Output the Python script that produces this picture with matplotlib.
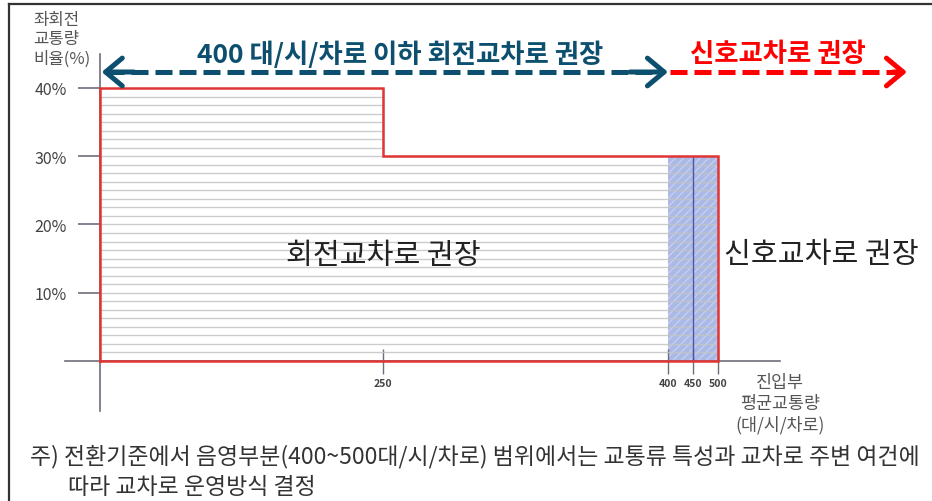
import numpy as np
import matplotlib.pyplot as plt
from matplotlib.lines import Line2D

plt.rcParams['font.family'] = ['Noto Sans CJK KR', 'DejaVu Sans']

# criteria: left-turn ratio limit (%) by approach volume (veh/h/lane)
step_x = [0, 0, 250, 250, 500, 500, 0]
step_y = [0, 40, 40, 30, 30, 0, 0]
shade_range = (400, 500)
shade_top = 30
mid_line = 450
x_ticks = [250, 400, 450, 500]
y_ticks = [10, 20, 30, 40]
y_ticklabels = ['10%', '20%', '30%', '40%']

BLUE = '#0d4f6e'
RED = '#ff0000'
AXIS = '#6e6e7a'

# piecewise axis: 0-250 and 250-400 stretched, 400-500 compressed
xp = [-1000, 0, 250, 400, 500, 2000]
fp = [-1000, 0, 283, 568, 618, 1368]


def fwd(x):
    return np.interp(x, xp, fp)


def inv(x):
    return np.interp(x, fp, xp)


fig = plt.figure(figsize=(9.32, 5.02), dpi=100)
ax = fig.add_axes([60 / 932, 82 / 502, 730 / 932, 370 / 502])
ax.set_xscale('function', functions=(fwd, inv))
ax.set_xlim(-40, 644)
ax.set_ylim(-8.5, 45.71)

# shaded transition band
ax.fill_between(shade_range, 0, shade_top, facecolor='#abb9e6', edgecolor='#c4cef0',
                hatch='////', lw=0, zorder=1)

# horizontal ruling inside the recommended region
for yy in np.arange(1.25, 40, 1.25):
    x_end = 500 if yy <= 30 else 250
    ax.plot([0, x_end], [yy, yy], color='#c4c4c4', lw=1.0, alpha=0.85, zorder=2)

ax.plot([mid_line, mid_line], [0, shade_top], color='#4a55b0', lw=1.0, zorder=3)

# red outline
ax.plot(step_x, step_y, color='#e03535', lw=1.8, zorder=4, solid_joinstyle='miter')

# axes
for s in ['top', 'right']:
    ax.spines[s].set_visible(False)
ax.spines['left'].set_position(('data', 0))
ax.spines['bottom'].set_position(('data', 0))
ax.spines['left'].set_bounds(-7.3, 45)
ax.spines['bottom'].set_bounds(-35, 624)
for s in ['left', 'bottom']:
    ax.spines[s].set_color(AXIS)
    ax.spines[s].set_linewidth(1.2)

ax.set_yticks(y_ticks)
ax.set_yticklabels(y_ticklabels)
ax.tick_params(axis='y', direction='out', length=16, width=1.2, color=AXIS,
               labelsize=11.5, labelcolor='#444444', pad=8)
ax.set_xticks(x_ticks)
ax.set_xticklabels([str(v) for v in x_ticks])
ax.tick_params(axis='x', direction='inout', length=18, width=1.0, color=AXIS,
               labelsize=7.5, labelcolor='#444444', pad=3)
for lbl in ax.get_xticklabels():
    lbl.set_fontweight('bold')

# region labels
ax.text(250, 15.5, '회전교차로 권장', fontsize=21, color='#222222',
        ha='center', va='center')
fig.text(821 / 932, 1 - 255 / 502, '신호교차로 권장', fontsize=21,
         color='#222222', ha='center', va='center')

# axis titles
fig.text(33 / 932, 1 - 40 / 502, '좌회전\n교통량\n비율(%)', fontsize=12,
         color='#555555', ha='left', va='center', linespacing=1.2)
fig.text(780 / 932, 1 - 404 / 502, '진입부\n평균교통량\n(대/시/차로)', fontsize=12.5,
         color='#555555', ha='center', va='center', linespacing=1.2)

# recommendation arrows
arrow_y = 42.34
ax.plot([6, 395], [arrow_y, arrow_y], color=BLUE, lw=3.6, dashes=(3.4, 1.4),
        zorder=5, clip_on=False)
ax.plot([405, 866], [arrow_y, arrow_y], color=RED, lw=3.6, dashes=(3.4, 1.4),
        zorder=5, clip_on=False)
head = dict(arrowstyle='->, head_length=0.6, head_width=0.5', lw=3.6,
            mutation_scale=20, capstyle='round', joinstyle='round',
            shrinkA=0, shrinkB=0)
ax.annotate('', xy=(1.5, arrow_y), xytext=(30, arrow_y),
            arrowprops=dict(color=BLUE, **head), zorder=6, annotation_clip=False)
ax.annotate('', xy=(400, arrow_y), xytext=(380, arrow_y),
            arrowprops=dict(color=BLUE, **head), zorder=6, annotation_clip=False)
ax.annotate('', xy=(878, arrow_y), xytext=(850, arrow_y),
            arrowprops=dict(color=RED, **head), zorder=6, annotation_clip=False)
fig.text(400 / 932, 1 - 55 / 502, '400 대/시/차로 이하 회전교차로 권장', fontsize=19,
         fontweight='bold', color=BLUE, ha='center', va='center')
fig.text(778 / 932, 1 - 55 / 502, '신호교차로 권장', fontsize=19,
         fontweight='bold', color=RED, ha='center', va='center')

# footnote
fig.text(30 / 932, 1 - 457 / 502,
         '주) 전환기준에서 음영부분(400~500대/시/차로) 범위에서는 교통류 특성과 교차로 주변 여건에',
         fontsize=16.5, color='#333333', ha='left', va='center')
fig.text(68 / 932, 1 - 488 / 502, '따라 교차로 운영방식 결정', fontsize=16.5,
         color='#333333', ha='left', va='center')

# outer frame (top and left edges)
fig.add_artist(Line2D([9 / 932, 1], [1 - 5 / 502, 1 - 5 / 502],
                      transform=fig.transFigure, color='#333333', lw=1.6))
fig.add_artist(Line2D([9 / 932, 9 / 932], [0, 1 - 5 / 502],
                      transform=fig.transFigure, color='#333333', lw=1.6))

fig.savefig('out.png', dpi=100)
